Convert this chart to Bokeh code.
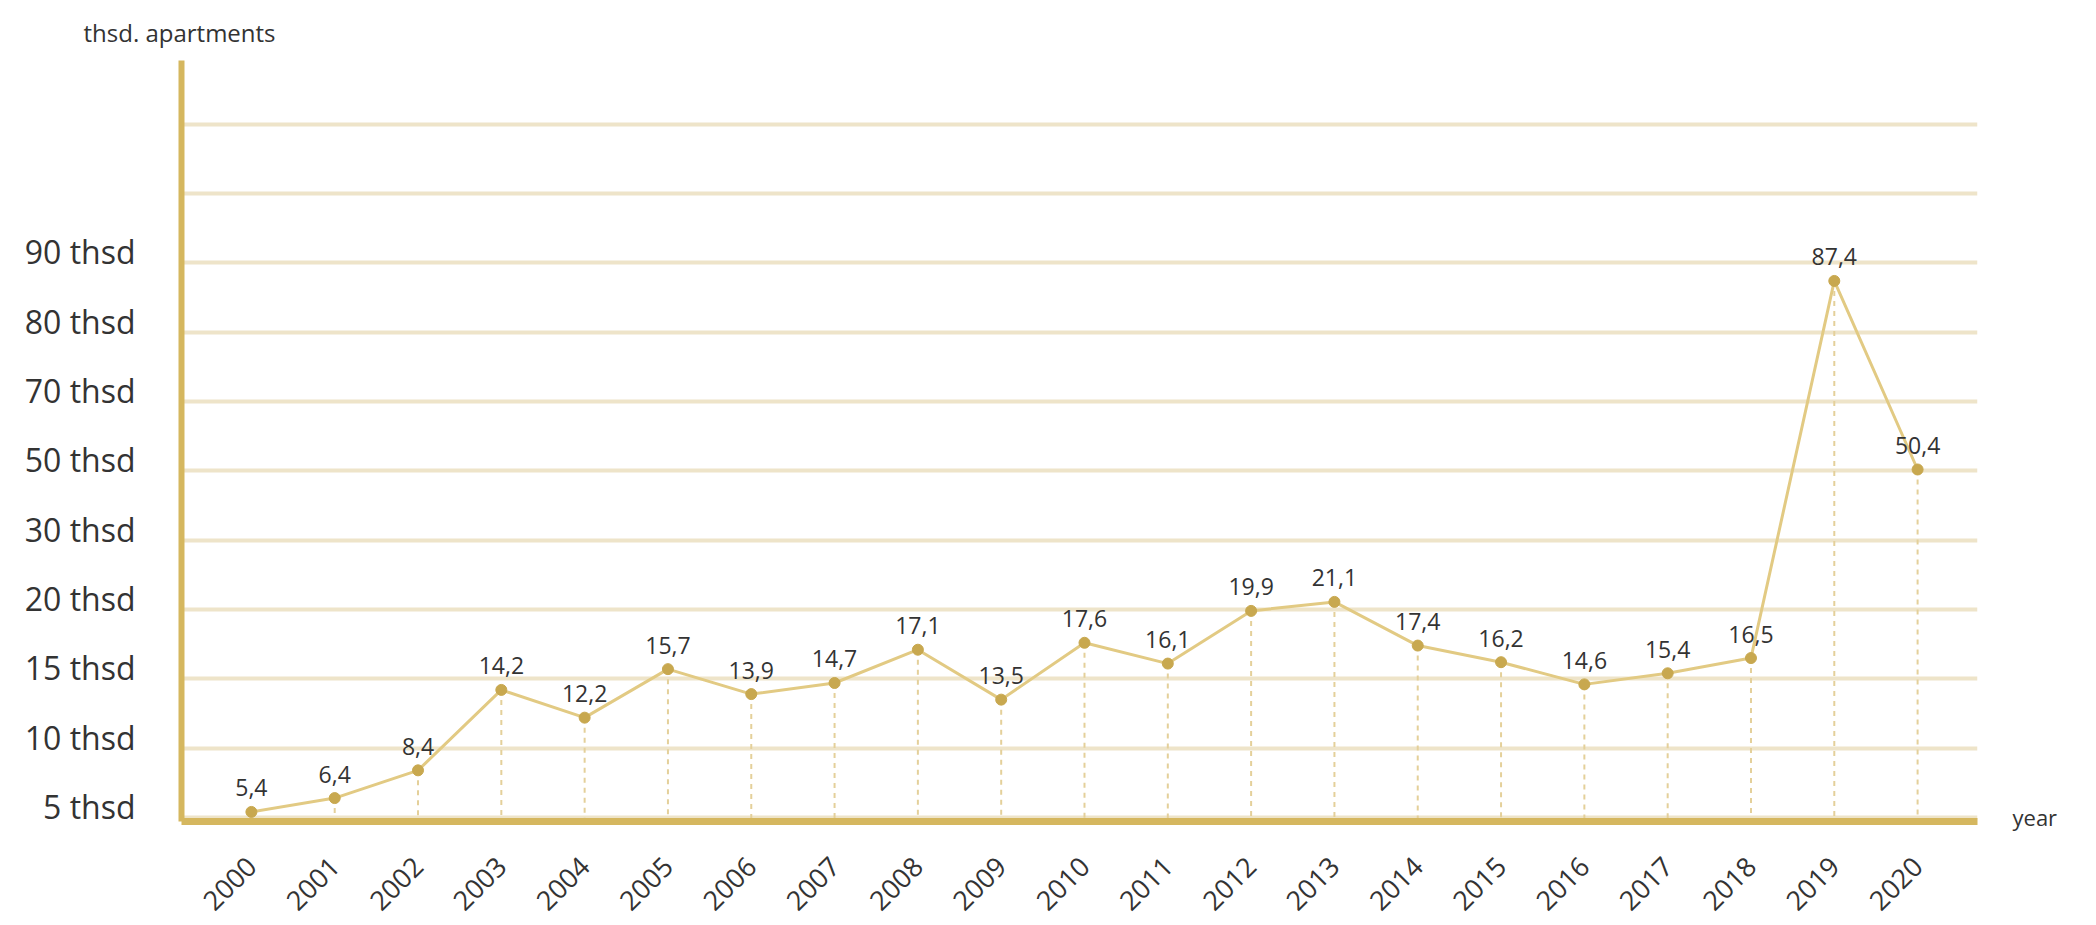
import math
import numpy as np
from bokeh.plotting import figure
from bokeh.models import (ColumnDataSource, FixedTicker, LabelSet, LinearAxis, Range1d)
from bokeh.core.properties import value
from bokeh.embed import file_html
from bokeh.resources import INLINE

# ---- data ----
years = [2000, 2001, 2002, 2003, 2004, 2005, 2006, 2007, 2008, 2009, 2010,
         2011, 2012, 2013, 2014, 2015, 2016, 2017, 2018, 2019, 2020]
apartments = [5.4, 6.4, 8.4, 14.2, 12.2, 15.7, 13.9, 14.7, 17.1, 13.5, 17.6,
              16.1, 19.9, 21.1, 17.4, 16.2, 14.6, 15.4, 16.5, 87.4, 50.4]
level_values = [5, 10, 15, 20, 30, 50, 70, 80, 90]
level_labels = ["5 thsd", "10 thsd", "15 thsd", "20 thsd", "30 thsd",
                "50 thsd", "70 thsd", "80 thsd", "90 thsd"]
extra_grid_levels = 2
y_title = "thsd. apartments"
x_title = "year"

FONT = "Open Sans"
GOLD = "#D5B75F"
POINT = "#C8A84F"
LINE = "#E2CA83"
GRID = "#EEE4C9"
DROP = "#E4D09A"
TEXT = "#333333"

# piecewise (non-linear) value axis: each labelled level is one grid step
lvl_idx = np.arange(len(level_values))
y_lvl = np.interp(apartments, level_values, lvl_idx)
labels = [f"{v:.1f}".replace(".", ",") for v in apartments]

y0 = -0.058
src = ColumnDataSource(dict(x=years, y=y_lvl, lab=labels, base=[y0] * len(years)))

p = figure(width=2060, height=925, output_backend="svg", toolbar_location=None,
           x_range=Range1d(1999.161, 2020.719), y_range=Range1d(y0, 10.92),
           min_border_left=181, min_border_right=80, min_border_top=60,
           min_border_bottom=104)
p.outline_line_color = None
p.background_fill_color = "white"
p.border_fill_color = "white"

# title used as the unit caption at top-left
p.title.text = y_title
p.title.align = "left"
p.title.vertical_align = "top"
p.title.offset = -98
p.title.standoff = 20
p.title.text_font = FONT
p.title.text_font_size = "24px"
p.title.text_font_style = "normal"
p.title.text_color = TEXT

# grid
p.xgrid.visible = False
p.ygrid.ticker = FixedTicker(ticks=list(range(0, len(level_values) + extra_grid_levels)))
p.ygrid.grid_line_color = GRID
p.ygrid.grid_line_width = 4

# y axis
ya = p.yaxis[0]
ya.ticker = FixedTicker(ticks=[i + 0.16 for i in lvl_idx])
ya.major_label_overrides = {i + 0.16: t for i, t in zip(lvl_idx, level_labels)}
ya.axis_line_color = GOLD
ya.axis_line_width = 6
ya.major_tick_line_color = None
ya.minor_tick_line_color = None
ya.major_label_standoff = 40
ya.major_label_text_font = FONT
ya.major_label_text_font_size = "32px"
ya.major_label_text_color = TEXT

# x axis
xa = p.xaxis[0]
xa.ticker = FixedTicker(ticks=years)
xa.major_label_overrides = {y: str(y) for y in years}
xa.major_label_orientation = math.pi / 4
xa.axis_line_color = GOLD
xa.axis_line_width = 7
xa.major_tick_line_color = None
xa.minor_tick_line_color = None
xa.major_label_standoff = 34
xa.major_label_text_font = FONT
xa.major_label_text_font_size = "27px"
xa.major_label_text_color = TEXT

# "year" caption at the right end of the baseline
ra = LinearAxis(ticker=FixedTicker(ticks=[0]), major_label_overrides={0: x_title})
ra.axis_line_color = None
ra.major_tick_line_color = None
ra.minor_tick_line_color = None
ra.major_label_standoff = 29
ra.major_label_text_font = FONT
ra.major_label_text_font_size = "22px"
ra.major_label_text_color = TEXT
p.add_layout(ra, "right")

# drop lines, line, points
p.segment(x0="x", y0="y", x1="x", y1="base", source=src, line_color=DROP,
          line_width=2, line_dash="5 5")
p.line("x", "y", source=src, line_color=LINE, line_width=3)
p.scatter("x", "y", source=src, size=11, fill_color=POINT, line_color=POINT)

p.add_layout(LabelSet(x="x", y="y", text="lab", source=src, y_offset=24,
                      text_align="center", text_baseline="middle",
                      text_font=value(FONT), text_font_size="23px",
                      text_color=TEXT))

open("out.html", "w").write(file_html(p, INLINE))
